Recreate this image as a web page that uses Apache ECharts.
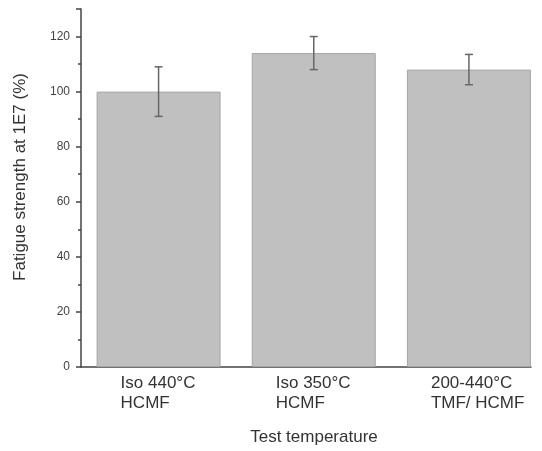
<!DOCTYPE html>
<html>
<head>
<meta charset="utf-8">
<script src="https://cdn.jsdelivr.net/npm/echarts@6/dist/echarts.min.js"></script>
<style>
  html, body { margin: 0; padding: 0; background: #fff; }
  #chart { width: 542px; height: 451px; }
</style>
</head>
<body>
<div id="chart"></div>
<script>
const positions = [1, 2, 3];
const categories = [
    ["Iso 440°C", "HCMF"],
    ["Iso 350°C", "HCMF"],
    ["200-440°C", "TMF/ HCMF"]
];
const strength = [100, 114, 108];
const errLow = [91, 108, 102.5];
const errHigh = [109, 120, 113.5];

const fontFamily = '"Liberation Sans", Arial, sans-serif';

var chartDom = document.getElementById('chart');
var myChart = echarts.init(chartDom);
var option;

option = {
    animation: false,
    grid: {
        left: 81,
        right: 11,
        top: 9,
        bottom: 83
    },
    xAxis: {
        type: 'value',
        min: 0.5,
        max: 3.4,
        name: 'Test temperature',
        nameLocation: 'middle',
        nameGap: 62,
        nameTextStyle: {
            fontFamily: fontFamily,
            fontSize: 17,
            color: '#333',
            padding: [0, 0, 0, 16]
        },
        splitLine: { show: false },
        axisLine: { lineStyle: { color: '#444', width: 1.5 } },
        axisTick: { show: false },
        axisLabel: {
            customValues: positions,
            margin: 6,
            formatter: function (v) {
                const idx = positions.indexOf(v);
                if (idx < 0) return '';
                return categories[idx].map(s => '{a|' + s + '}').join('\n');
            },
            rich: {
                a: {
                    fontFamily: fontFamily,
                    fontSize: 17,
                    color: '#333',
                    width: 76,
                    align: 'left',
                    lineHeight: 20
                }
            }
        }
    },
    yAxis: {
        type: 'value',
        min: 0,
        max: 130,
        interval: 20,
        name: 'Fatigue strength at 1E7 (%)',
        nameLocation: 'middle',
        nameGap: 52,
        nameTextStyle: {
            fontFamily: fontFamily,
            fontSize: 17,
            color: '#333',
            padding: [0, 0, 0, 22]
        },
        splitLine: { show: false },
        axisLine: { show: true, lineStyle: { color: '#444', width: 1.5 } },
        axisTick: { show: true, length: 5, lineStyle: { color: '#444', width: 1.5 } },
        minorTick: { show: true, splitNumber: 2, length: 3, lineStyle: { color: '#444', width: 1.5 } },
        axisLabel: {
            fontFamily: fontFamily,
            fontSize: 12,
            color: '#444',
            margin: 11,
            showMaxLabel: false
        }
    },
    series: [
        {
            type: 'bar',
            barWidth: 124,
            data: positions.map((p, i) => [p, strength[i]]),
            itemStyle: {
                color: '#c0c0c0',
                borderColor: '#a6a6a6',
                borderWidth: 1
            }
        },
        {
            type: 'custom',
            data: positions.map((p, i) => [p, errLow[i], errHigh[i]]),
            renderItem: function (params, api) {
                const x = api.value(0);
                const lo = api.coord([x, api.value(1)]);
                const hi = api.coord([x, api.value(2)]);
                const half = 4;
                const style = { stroke: '#666', lineWidth: 1.5 };
                return {
                    type: 'group',
                    children: [
                        { type: 'line', shape: { x1: lo[0], y1: lo[1], x2: hi[0], y2: hi[1] }, style: style },
                        { type: 'line', shape: { x1: hi[0] - half, y1: hi[1], x2: hi[0] + half, y2: hi[1] }, style: style },
                        { type: 'line', shape: { x1: lo[0] - half, y1: lo[1], x2: lo[0] + half, y2: lo[1] }, style: style }
                    ]
                };
            },
            z: 10
        }
    ]
};

option && myChart.setOption(option);
</script>
</body>
</html>
